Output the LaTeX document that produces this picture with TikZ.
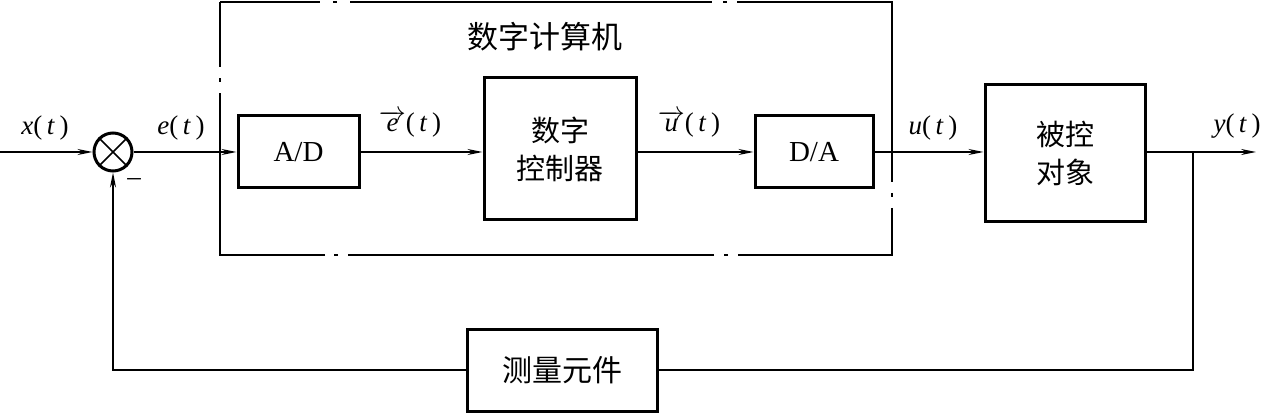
\documentclass[tikz,border=0pt]{standalone}
\usepackage{fix-cm}
\usepackage{fontspec}
\setmainfont{Liberation Serif}
\newfontfamily\cjk{Noto Sans CJK SC}
\usetikzlibrary{arrows.meta}
\newcommand{\vecarr}[1]{$\overrightarrow{\hbox{\textit{#1}}}$}
\begin{document}
\begin{tikzpicture}[x=1pt,y=-1pt,
  blk/.style={draw,line width=3pt,minimum width=#1,inner sep=0pt,align=center},
  conn/.style={line width=1.4pt},
  arr/.style={conn,-{Stealth[length=15pt,width=6pt]}},
  frame/.style={line width=2pt},
  lbl/.style={inner sep=0pt,font=\fontsize{27}{32}\selectfont},
  cn/.style={font=\fontsize{29}{38}\selectfont\cjk},
  lat/.style={font=\fontsize{29}{34}\selectfont}]
\useasboundingbox (0,0) rectangle (1269,414);
% computer frame (dash-dot)
\draw[frame] (220,2) -- (320,2) (333,2) -- (337,2) (350,2) -- (712,2) (723,2) -- (727,2) (737,2) -- (892,2)
  -- (892,182) (892,193) -- (892,197) (892,208) -- (892,255)
  -- (738,255) (728,255) -- (724,255) (714,255) -- (348,255) (338,255) -- (334,255) (325,255) -- (220,255)
  -- (220,93) (220,82) -- (220,78) (220,67) -- (220,2);
\node[cn,font=\fontsize{31}{38}\selectfont\cjk] (title) at (545,37) {数字计算机};
% blocks
\node[circle,draw,line width=3pt,minimum size=38pt,inner sep=0pt] (s) at (113,152) {};
\draw[line width=1.6pt] (s.north west) -- (s.south east) (s.north east) -- (s.south west);
\node[blk=121pt,minimum height=72pt,lat] (ad) at (298.5,152) {A/D};
\node[blk=152pt,minimum height=142pt,cn] (ctrl) at (560,149) {数字\\控制器};
\node[blk=118pt,minimum height=72pt,lat] (da) at (814,152) {D/A};
\node[blk=160pt,minimum height=137pt,cn] (plant) at (1065,153) {被控\\对象};
\node[blk=190pt,minimum height=82pt,cn,font=\fontsize{30}{38}\selectfont\cjk] (fb) at (562,370) {测量元件};
% coordinates
\coordinate (in) at (0,152);
\coordinate (out) at (1256,152);
\coordinate (br) at (1193,152);
\coordinate (brd) at (1193,370);
\coordinate (fbl) at (113,370);
% connectors
\draw[arr] (in) -- (s.west);
\draw[arr] (s.east) -- (ad.west);
\draw[arr] (ad.east) -- (ctrl.west |- ad.east);
\draw[arr] (ctrl.east |- da.west) -- (da.west);
\draw[arr] (da.east) -- (plant.west |- da.east);
\draw[arr] (plant.east |- out) -- (out);
\draw[conn] (br) -- (brd) -- (fb.east);
\draw[arr] (fb.west) -- (fbl) -- (s.south);
% labels
\node[lbl] (lx) at (45,128) {\textit{x}(\,\textit{t}\,)};
\node[lbl] (le) at (181,128) {\textit{e}(\,\textit{t}\,)};
\node[lbl] (lm) at (134,182) {–};
\node[lbl] (lev) at (410,124) {\vecarr{e}(\,\textit{t}\,)};
\node[lbl] (luv) at (689,124) {\vecarr{u}(\,\textit{t}\,)};
\node[lbl] (lu) at (933,128) {\textit{u}(\,\textit{t}\,)};
\node[lbl] (ly) at (1237,126) {\textit{y}(\,\textit{t}\,)};
\end{tikzpicture}
\end{document}
